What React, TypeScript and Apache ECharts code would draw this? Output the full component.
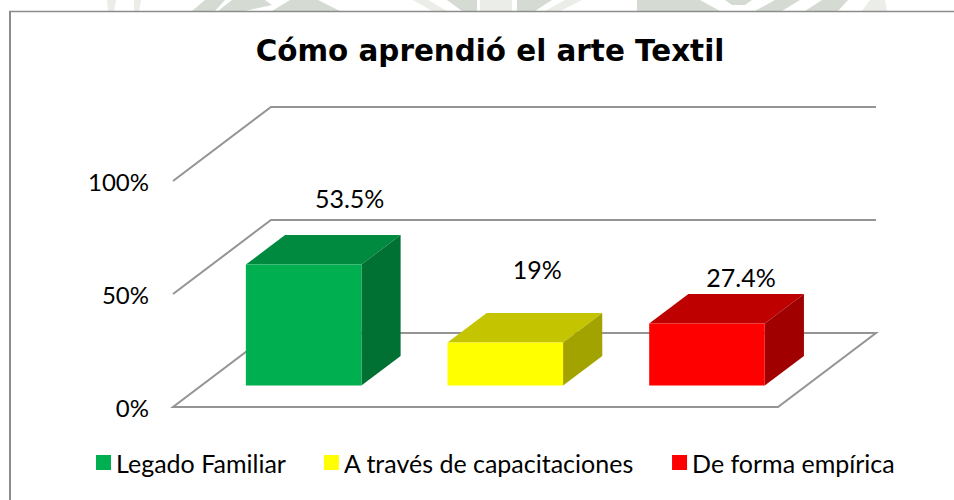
import React, { useEffect, useRef } from "react";
import * as echarts from "echarts";

const titleText = "Cómo aprendió el arte Textil";
const categories = ["Legado Familiar", "A través de capacitaciones", "De forma empírica"];
const values = [53.5, 19, 27.4];
const valueLabels = ["53.5%", "19%", "27.4%"];
const frontColors = ["#00B050", "#FFFF00", "#FF0000"];
const topColors = ["#008A3F", "#C4C400", "#BF0000"];
const sideColors = ["#007033", "#A3A300", "#A00000"];
const yTicks = [0, 50, 100];

// Layout of the fake 3D projection and of the hand-placed data labels.
const DX = 98;
const DY = -74;
const BAR_SHIFT_X = 29.8;
const BAR_SHIFT_Y = -21.5;
const BAR_DEPTH = 0.4;
const BAR_WIDTH = 0.573;
const LABEL_NUDGE_X = [46, 32, 34];
const LABEL_LIFT = [24, 31, 4];

const GRID = "#949494";
const WM_DARK = "#D5DBD3";
const WM_LIGHT = "#EAEDE8";

const watermark: [string, number[][]][] = [
  [WM_LIGHT, [[107, 0], [116, 0], [114, 11], [108, 11]]],
  [WM_LIGHT, [[134, 0], [141, 0], [139, 11], [134, 11]]],
  [WM_DARK, [[205, 0], [225, 0], [215, 11], [192, 11]]],
  [WM_DARK, [[232, 0], [265, 0], [272, 5], [245, 11], [218, 11]]],
  [WM_DARK, [[290, 0], [318, 0], [340, 11], [272, 11]]],
  [WM_LIGHT, [[413, 0], [428, 0], [447, 11], [432, 11]]],
  [WM_DARK, [[447, 0], [477, 0], [477, 11], [462, 11]]],
  [WM_LIGHT, [[480, 0], [512, 0], [512, 11], [480, 11]]],
  [WM_DARK, [[517, 0], [552, 0], [535, 11], [517, 11]]],
  [WM_LIGHT, [[565, 0], [582, 0], [560, 11], [545, 11]]],
  [WM_DARK, [[637, 0], [700, 0], [720, 11], [637, 11]]],
  [WM_DARK, [[725, 0], [752, 0], [745, 5], [732, 5]]],
  [WM_DARK, [[775, 0], [800, 0], [782, 11], [755, 11]]],
  [WM_DARK, [[822, 0], [848, 0], [838, 11], [805, 11]]],
  [WM_LIGHT, [[870, 0], [885, 0], [887, 11], [862, 11]]],
];

export default function App() {
  const ref = useRef<HTMLDivElement>(null);
  useEffect(() => {
    document.body.style.margin = "0";
    document.body.style.background = "#ffffff";
    const chart = echarts.init(ref.current!, null, { renderer: "svg" });
    const frame = (_: any, api: any) => {
      const [x0] = api.coord([-0.5, 0]);
      const [x1] = api.coord([2.5, 0]);
      const children: any[] = [];
      for (const t of yTicks) {
        const y = api.coord([0, t])[1];
        if (t === 0) {
          children.push({
            type: "polygon",
            shape: { points: [[x0, y], [x1, y], [x1 + DX, y + DY], [x0 + DX, y + DY]] },
            style: { stroke: GRID, lineWidth: 2, fill: "#fff" },
          });
        } else {
          children.push({
            type: "polyline",
            shape: { points: [[x0, y], [x0 + DX, y + DY], [x1 + DX, y + DY]] },
            style: { stroke: GRID, lineWidth: 2, fill: "none" },
          });
        }
      }
      return { type: "group", children };
    };
    const bar = (_: any, api: any) => {
      const i = api.value(0);
      const v = api.value(1);
      const c = api.coord([i, 0]);
      const top = api.coord([i, v])[1];
      const catW = api.size([1, 0])[0];
      const w = catW * BAR_WIDTH;
      const dx = DX * BAR_DEPTH;
      const dy = DY * BAR_DEPTH;
      const l = c[0] + BAR_SHIFT_X - w / 2;
      const r = l + w;
      const b = c[1] + BAR_SHIFT_Y;
      const t = top + BAR_SHIFT_Y;
      return {
        type: "group",
        children: [
          { type: "polygon", shape: { points: [[l, t], [r, t], [r + dx, t + dy], [l + dx, t + dy]] }, style: { fill: topColors[i] } },
          { type: "polygon", shape: { points: [[r, t], [r + dx, t + dy], [r + dx, b + dy], [r, b]] }, style: { fill: sideColors[i] } },
          { type: "rect", shape: { x: l, y: t, width: w, height: b - t }, style: { fill: frontColors[i] } },
          {
            type: "text",
            style: {
              x: (l + r) / 2 + LABEL_NUDGE_X[i],
              y: t + dy - LABEL_LIFT[i],
              text: valueLabels[i],
              fill: "#000",
              font: "25px Lato",
              align: "center",
              verticalAlign: "bottom",
            },
          },
        ],
      };
    };
    chart.setOption({
      animation: false,
      backgroundColor: "transparent",
      title: {
        text: titleText,
        left: 485,
        top: 31,
        textAlign: "center",
        textStyle: { fontFamily: "DejaVu Sans", fontWeight: "bold", fontSize: 29.4, color: "#000" },
      },
      legend: {
        top: 445,
        left: 91,
        itemWidth: 15,
        itemHeight: 15,
        itemGap: 38,
        icon: "rect",
        textStyle: { fontFamily: "Lato", fontSize: 25, color: "#000" },
        data: categories,
      },
      grid: { left: 173, top: 181, width: 605, height: 226 },
      xAxis: { type: "value", min: -0.5, max: 2.5, show: false },
      yAxis: {
        type: "value",
        min: 0,
        max: 100,
        interval: 50,
        axisLine: { show: false },
        axisTick: { show: false },
        splitLine: { show: false },
        axisLabel: { formatter: "{value}%", fontFamily: "Lato", fontSize: 24, color: "#000", margin: 24 },
      },
      series: [
        { type: "custom", name: "frame", silent: true, data: [[0, 0]], renderItem: frame, clip: false, z: 1 },
        ...categories.map((name, i) => ({
          type: "custom",
          name,
          renderItem: bar,
          clip: false,
          z: 2,
          itemStyle: { color: frontColors[i] },
          data: [[i, values[i]]],
          encode: { x: 0, y: 1 },
        })),
      ],
      graphic: [
        {
          type: "group",
          silent: true,
          z: -10,
          children: [
            ...watermark.map(([fill, points]) => ({ type: "polygon", shape: { points }, style: { fill } })),
            { type: "line", shape: { x1: 9, y1: 11.5, x2: 954, y2: 11.5 }, style: { stroke: "#8C8C8C", lineWidth: 1.5 } },
            { type: "line", shape: { x1: 10, y1: 11, x2: 10, y2: 500 }, style: { stroke: "#8C8C8C", lineWidth: 2 } },
          ],
        },
      ],
    });
    return () => chart.dispose();
  }, []);
  return <div ref={ref} style={{ width: 954, height: 500, position: "absolute", left: 0, top: 0 }} />;
}
